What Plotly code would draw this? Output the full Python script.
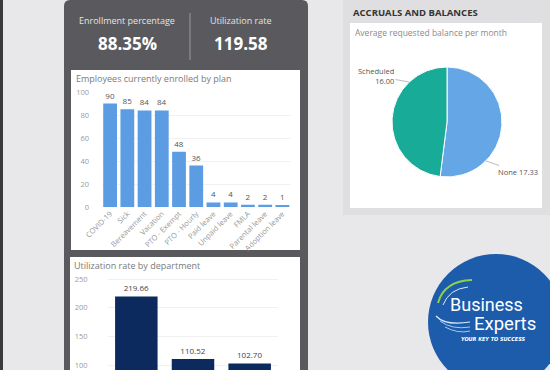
import plotly.graph_objects as go

W, H = 550, 370

# ---- data ----
plans = ["COVID-19", "Sick", "Bereavement", "Vacation", "PTO - Exempt", "PTO - Hourly",
         "Paid leave", "Unpaid leave", "FMLA", "Parental leave", "Adoption leave"]
enrolled = [90, 85, 84, 84, 48, 36, 4, 4, 2, 2, 1]

departments = ["Sales", "Operations", "Finance"]
util_rate = [219.66, 110.52, 102.70]

balance_labels = ["None", "Scheduled"]
balance_values = [17.33, 16.00]

kpi_names = ["Enrollment percentage", "Utilization rate"]
kpi_values = ["88.35%", "119.58"]

FONT = "Segoe UI, Open Sans, DejaVu Sans, sans-serif"

def px(x):
    return x / W

def py(y):
    return 1 - y / H

fig = go.Figure()

fig.add_trace(go.Bar(
    x=plans, y=enrolled, marker_color="#5b9ce2", marker_line_width=0,
    text=[str(v) for v in enrolled], textposition="outside", cliponaxis=False,
    textfont=dict(size=8, color="#555555", family=FONT),
    xaxis="x", yaxis="y", width=0.8, showlegend=False, hoverinfo="x+y"))

fig.add_trace(go.Bar(
    x=departments, y=util_rate, marker_color="#0c2a5e", marker_line_width=0,
    text=[f"{v:.2f}" for v in util_rate], textposition="outside", cliponaxis=False,
    textfont=dict(size=8, color="#444444", family=FONT),
    xaxis="x2", yaxis="y2", width=0.75, showlegend=False))

fig.add_trace(go.Pie(
    labels=balance_labels, values=balance_values, sort=False, direction="clockwise",
    rotation=0, marker=dict(colors=["#64a6e6", "#17ab98"], line=dict(color="white", width=1)),
    textinfo="none", showlegend=False, hole=0, automargin=False,
    domain=dict(x=[px(392), px(502)], y=[py(178), py(66)])))

shapes = []
# left dark strip
shapes.append(dict(type="rect", xref="paper", yref="paper", x0=0, x1=px(3), y0=0, y1=1,
                   fillcolor="#3a3a3e", line_width=0, layer="below"))
# dark panel with rounded top corners
x0, x1, y0 = 64, 308, 0
r = 6
path = (f"M {px(x0)},{py(H)} L {px(x0)},{py(y0 + r)} Q {px(x0)},{py(y0)} {px(x0 + r)},{py(y0)} "
        f"L {px(x1 - r)},{py(y0)} Q {px(x1)},{py(y0)} {px(x1)},{py(y0 + r)} L {px(x1)},{py(H)} Z")
shapes.append(dict(type="path", xref="paper", yref="paper", path=path,
                   fillcolor="#5a5a5e", line_width=0, layer="below"))
# KPI divider
shapes.append(dict(type="line", xref="paper", yref="paper", x0=px(190), x1=px(190),
                   y0=py(13), y1=py(60), line=dict(color="#9a9a9e", width=1)))
# white cards
for (a, b, c, d) in [(71, 300, 70, 250), (70, 300, 257, 372)]:
    shapes.append(dict(type="rect", xref="paper", yref="paper", x0=px(a), x1=px(b),
                       y0=py(d), y1=py(c), fillcolor="#ffffff", line_width=0, layer="below"))
# pie section background & card
shapes.append(dict(type="rect", xref="paper", yref="paper", x0=px(343), x1=px(550),
                   y0=py(215), y1=py(0), fillcolor="#dfdfe1", line_width=0, layer="below"))
shapes.append(dict(type="rect", xref="paper", yref="paper", x0=px(350), x1=px(542),
                   y0=py(208), y1=py(23), fillcolor="#ffffff", line_width=0, layer="below"))
# logo circle
cx, cy, rr = 496, 322, 68
shapes.append(dict(type="circle", xref="paper", yref="paper", x0=px(cx - rr), x1=px(cx + rr),
                   y0=py(cy + rr), y1=py(cy - rr), fillcolor="#1d5bab", line_width=0))
# logo swooshes
def sw(d, color, w):
    shapes.append(dict(type="path", xref="paper", yref="paper", path=d,
                       line=dict(color=color, width=w)))
sw(f"M {px(438)},{py(303)} Q {px(444)},{py(281)} {px(472)},{py(280)}", "#8bd14a", 2)
sw(f"M {px(443)},{py(305)} Q {px(449)},{py(289)} {px(468)},{py(287)}", "#d9ecff", 1)
sw(f"M {px(436)},{py(316)} Q {px(445)},{py(326)} {px(470)},{py(322)}", "#d9ecff", 1.2)
sw(f"M {px(440)},{py(321)} Q {px(452)},{py(330)} {px(470)},{py(327)}", "#a9c9f0", 1)
sw(f"M {px(445)},{py(327)} Q {px(458)},{py(334)} {px(470)},{py(331)}", "#a9c9f0", 1)

ann = []
def text(x, y, s, size, color, xanchor="center", bold=False, italic=False, family=FONT):
    t = f"<b>{s}</b>" if bold else s
    if italic:
        t = f"<i>{t}</i>"
    ann.append(dict(x=px(x), y=py(y), xref="paper", yref="paper", text=t, showarrow=False,
                    xanchor=xanchor, yanchor="middle",
                    font=dict(size=size, color=color, family=family)))

text(127, 20, kpi_names[0], 9, "#e4e4e4")
text(241, 20, kpi_names[1], 9, "#e4e4e4")
text(127, 43, kpi_values[0], 17, "#ffffff", bold=True)
text(241, 43, kpi_values[1], 17, "#ffffff", bold=True)
text(74, 78, "Employees currently enrolled by plan", 9, "#7a7a7a", xanchor="left")
text(72, 265, "Utilization rate by department", 9, "#7a7a7a", xanchor="left")
text(351, 12, "ACCRUALS AND BALANCES", 9.5, "#333333", xanchor="left", bold=True)
text(353, 32, "Average requested balance per month", 8.5, "#8a8a8a", xanchor="left")

# pie labels with leader lines
ann.append(dict(x=px(409), y=py(82), xref="paper", yref="paper",
                text=f"{balance_labels[1]}<br>{balance_values[1]:.2f}", showarrow=True,
                arrowhead=0, arrowwidth=0.8, arrowcolor="#aaaaaa", ax=-33, ay=-6,
                align="right", font=dict(size=7.5, color="#555555", family=FONT)))
ann.append(dict(x=px(486), y=py(161), xref="paper", yref="paper",
                text=f"{balance_labels[0]} {balance_values[0]:.2f}", showarrow=True,
                arrowhead=0, arrowwidth=0.8, arrowcolor="#aaaaaa", ax=32, ay=11,
                font=dict(size=7.5, color="#555555", family=FONT)))

# logo text
text(448, 304, "Business", 18, "#ffffff", xanchor="left", family="Roboto, Open Sans, sans-serif")
text(472, 324, "Experts", 18.5, "#ffffff", xanchor="left", family="Roboto, Open Sans, sans-serif")
text(493, 339, "YOUR KEY TO SUCCESS", 5.5, "#ffffff", bold=True, italic=True,
     family="DejaVu Sans Condensed, DejaVu Sans, sans-serif")

axis_font = dict(size=7.5, color="#9a9a9a", family=FONT)

fig.update_layout(
    width=W, height=H, margin=dict(l=0, r=0, t=0, b=0, autoexpand=False),
    paper_bgcolor="#e8e8ea", plot_bgcolor="rgba(0,0,0,0)",
    shapes=shapes, annotations=ann, bargap=0.2,
    xaxis=dict(domain=[px(101.5), px(291)], anchor="y", tickangle=-45, tickfont=axis_font,
               showgrid=False, showline=False, ticks="", fixedrange=True, automargin=False),
    yaxis=dict(domain=[py(207), py(92)], anchor="x", range=[0, 100], tickvals=[0, 20, 40, 60, 80, 100],
               tickfont=axis_font, showgrid=True, gridcolor="#f2f2f2", zeroline=False,
               ticks="outside", ticklen=10, tickcolor="rgba(0,0,0,0)", automargin=False),
    xaxis2=dict(domain=[px(108), px(278)], anchor="y2", showticklabels=False, showgrid=False,
                showline=False, ticks="", automargin=False),
    yaxis2=dict(domain=[0, py(272)], anchor="x2", range=[91.3, 262.2], tickvals=[100, 150, 200, 250],
                tickfont=axis_font, showgrid=True, gridcolor="#f0f0f0", zeroline=False,
                ticks="outside", ticklen=18, tickcolor="rgba(0,0,0,0)", automargin=False),
    font=dict(family=FONT),
)

fig.write_html("out.html", config={"displayModeBar": False},
               post_script="document.body.style.margin='0';document.body.style.padding='0';"
                           "document.body.style.overflow='hidden';")
